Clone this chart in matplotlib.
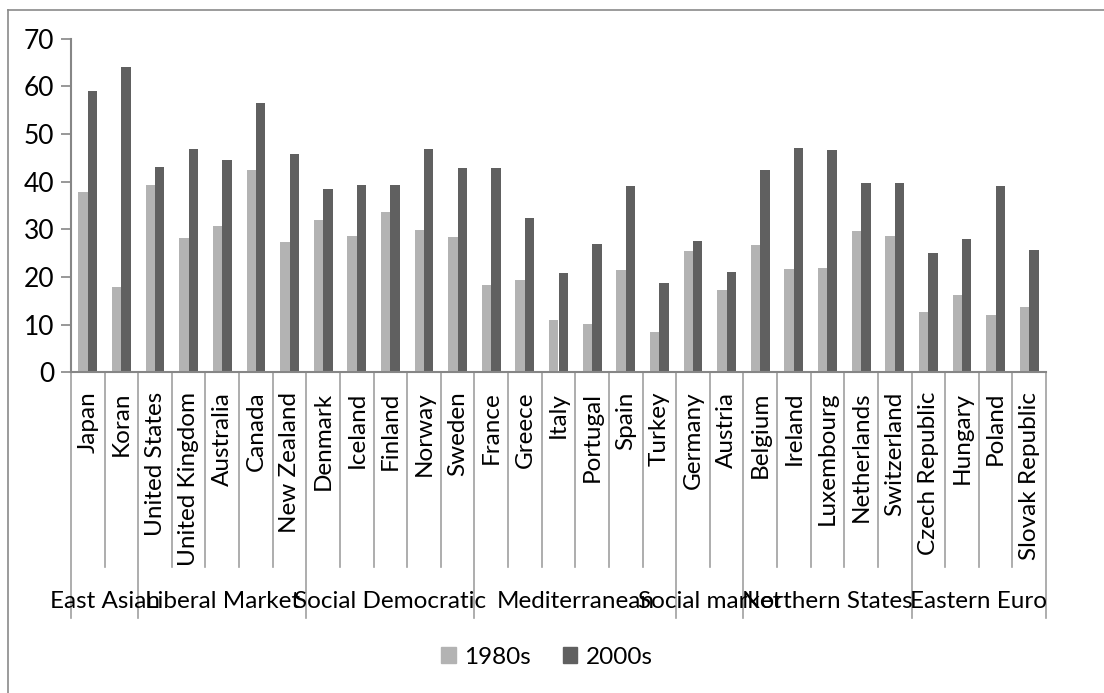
import matplotlib
matplotlib.use("Agg")
import matplotlib.pyplot as plt
from matplotlib.lines import Line2D
from matplotlib.patches import Patch
from matplotlib.transforms import blended_transform_factory
import numpy as np

plt.rcParams['font.family'] = ['Lato', 'DejaVu Sans']

countries = ["Japan", "Koran", "United States", "United Kingdom", "Australia", "Canada",
             "New Zealand", "Denmark", "Iceland", "Finland", "Norway", "Sweden", "France",
             "Greece", "Italy", "Portugal", "Spain", "Turkey", "Germany", "Austria",
             "Belgium", "Ireland", "Luxembourg", "Netherlands", "Switzerland",
             "Czech Republic", "Hungary", "Poland", "Slovak Republic"]
v1980s = [37.9, 18.0, 39.4, 28.1, 30.7, 42.4, 27.3, 31.9, 28.6, 33.6, 29.8, 28.3, 18.3,
          19.3, 11.0, 10.1, 21.5, 8.5, 25.5, 17.2, 26.7, 21.7, 21.8, 29.7, 28.5,
          12.7, 16.2, 12.0, 13.7]
v2000s = [59.0, 64.0, 43.1, 46.9, 44.5, 56.6, 45.9, 38.5, 39.3, 39.3, 46.8, 42.8, 42.9,
          32.4, 20.8, 26.9, 39.0, 18.7, 27.6, 21.0, 42.4, 47.1, 46.6, 39.7, 39.7,
          25.0, 28.0, 39.1, 25.6]
groups = ["East Asian", "Liberal Market", "Social Democratic", "Mediterranean",
          "Social market", "Northern States", "Eastern Euro"]
group_sizes = [2, 5, 5, 6, 2, 5, 4]
series = ["1980s", "2000s"]
colors = ["#B3B3B3", "#606060"]

FS = 17.5
W, H = 1104, 693
fig = plt.figure(figsize=(W / 100, H / 100), dpi=100)

# outer chart border (left and top only visible)
fig.add_artist(Line2D([7.5 / W, 7.5 / W], [0, 1 - 9.5 / H], transform=fig.transFigure,
                      color="#8A8A8A", linewidth=1.2))
fig.add_artist(Line2D([7.5 / W, 1], [1 - 9.5 / H, 1 - 9.5 / H], transform=fig.transFigure,
                      color="#8A8A8A", linewidth=1.2))

left, right = 71 / W, 1046 / W
bottom, top = 1 - 372.3 / H, 1 - 38.7 / H
ax = fig.add_axes([left, bottom, right - left, top - bottom])

n = len(countries)
x = np.arange(n) + 0.5
bw = 0.28
ax.bar(x - bw / 2, v1980s, bw, color=colors[0], label=series[0], edgecolor="none")
ax.bar(x + bw / 2, v2000s, bw, color=colors[1], label=series[1], edgecolor="none")

ax.set_xlim(0, n)
ax.set_ylim(0, 70)
ax.set_yticks(range(0, 71, 10))
ax.tick_params(axis='y', direction='out', length=7, width=1.2, color="#868686",
               labelsize=19, pad=5)
ax.set_xticks([])
for s in ["top", "right"]:
    ax.spines[s].set_visible(False)
for s in ["left", "bottom"]:
    ax.spines[s].set_color("#868686")
    ax.spines[s].set_linewidth(1.5)

trans = blended_transform_factory(ax.transData, ax.transAxes)
ah = 372.3 - 38.7
y_tick_end = -(566.7 - 372.3) / ah
y_group_end = -(618 - 372.3) / ah
y_label_top = -(391.7 - 372.3) / ah
y_group_lab = -(601.7 - 372.3) / ah

for i, c in enumerate(countries):
    ax.text(x[i], y_label_top, c, rotation=90, ha='center', va='top', fontsize=FS,
            transform=trans)

bounds = np.concatenate([[0], np.cumsum(group_sizes)])
for b in range(n + 1):
    yend = y_group_end if b in bounds else y_tick_end
    ax.add_line(Line2D([b, b], [0, yend], transform=trans, color="#A0A0A0",
                       linewidth=1.2, clip_on=False))

for g, s0, s1 in zip(groups, bounds[:-1], bounds[1:]):
    ax.text((s0 + s1) / 2, y_group_lab, g, ha='center', va='center', fontsize=FS,
            transform=trans)

handles = [Patch(color=colors[0]), Patch(color=colors[1])]
fig.legend(handles, series, loc='center', bbox_to_anchor=(547 / W, 1 - 657 / H),
           ncol=2, frameon=False, fontsize=FS, handlelength=0.6, handleheight=0.6,
           handletextpad=0.35, columnspacing=1.3)

fig.savefig("out.png", dpi=100)
